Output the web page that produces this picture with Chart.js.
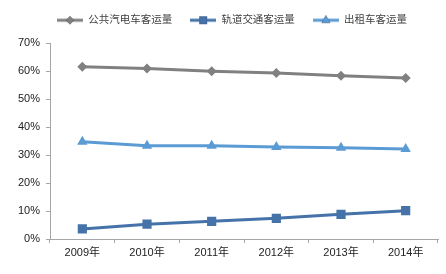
<!DOCTYPE html>
<html>
<head>
<meta charset="utf-8">
<script src="https://cdn.jsdelivr.net/npm/chart.js@4/dist/chart.umd.min.js"></script>
<style>
    html, body { margin: 0; padding: 0; background: #ffffff; }
    #grafico { width: 446px; height: 274px; }
</style>
</head>
<body>
<div id="grafico"><canvas id="lineChartPassageiros"></canvas></div>
<script>
// dados
const anos = ['2009年', '2010年', '2011年', '2012年', '2013年', '2014年'];
const onibus = [61.5, 60.9, 59.9, 59.3, 58.3, 57.5];   // 公共汽电车客运量
const metro = [3.6, 5.3, 6.3, 7.4, 8.8, 10.1];         // 轨道交通客运量
const taxi = [34.7, 33.3, 33.3, 32.9, 32.6, 32.1];     // 出租车客运量
const ticksY = [0, 10, 20, 30, 40, 50, 60, 70];

const fonte = "'Liberation Sans', 'Noto Sans CJK SC', sans-serif";

// desenha o ícone da legenda (linha + marcador)
function iconeLegenda(cor, estilo, raio) {
    const c = document.createElement('canvas');
    c.width = 26;
    c.height = 12;
    const ctx = c.getContext('2d');
    ctx.strokeStyle = cor;
    ctx.lineWidth = 3;
    ctx.beginPath();
    ctx.moveTo(0, 6);
    ctx.lineTo(26, 6);
    ctx.stroke();
    Chart.helpers.drawPoint(ctx, { pointStyle: estilo, radius: raio, borderWidth: 0 }, 13, 6);
    ctx.fillStyle = cor;
    ctx.fill();
    return c;
}

const series = [
    { label: '公共汽电车客运量', data: onibus, cor: '#808080', estilo: 'rectRot', raio: 5 },
    { label: '轨道交通客运量', data: metro, cor: '#4672aa', estilo: 'rect', raio: 6.5 },
    { label: '出租车客运量', data: taxi, cor: '#5b9bd5', estilo: 'triangle', raio: 6 }
];

const dadosGrafico = {
    labels: anos,
    datasets: series.map(s => ({
        label: s.label,
        data: s.data,
        borderColor: s.cor,
        backgroundColor: s.cor,
        borderWidth: 3,
        pointStyle: s.estilo,
        pointRadius: s.raio,
        pointBorderWidth: 0,
        pointBackgroundColor: s.cor,
        tension: 0,
        fill: false,
        icone: iconeLegenda(s.cor, s.estilo, s.raio - 1)
    }))
};

// ajuste da legenda: altura fixa e deslocamento para ficar como no original
const ajusteLegenda = {
    id: 'ajusteLegenda',
    afterInit: function (chart) {
        const fitOriginal = chart.legend.fit;
        chart.legend.fit = function () {
            fitOriginal.call(this);
            this.height = 43;
        };
    },
    afterLayout: function (chart) {
        chart.legend.top -= 3;
        chart.legend.left += 26;
    }
};

const config = {
    type: 'line',
    data: dadosGrafico,
    plugins: [ajusteLegenda],
    options: {
        responsive: true,
        maintainAspectRatio: false,
        animation: false,
        layout: { padding: { left: 0, right: 8, top: 0, bottom: 0 } },
        plugins: {
            tooltip: { enabled: false },
            legend: {
                position: 'top',
                labels: {
                    usePointStyle: true,
                    pointStyleWidth: 26,
                    padding: 18,
                    color: '#404040',
                    font: { family: fonte, size: 10.5 },
                    generateLabels: function (chart) {
                        return chart.data.datasets.map((ds, i) => ({
                            text: ds.label,
                            pointStyle: ds.icone,
                            fillStyle: ds.borderColor,
                            strokeStyle: ds.borderColor,
                            lineWidth: 0,
                            fontColor: '#404040',
                            datasetIndex: i
                        }));
                    }
                }
            }
        },
        scales: {
            x: {
                offset: true,
                grid: { display: true, offset: true, drawOnChartArea: false, tickLength: 4, color: '#a6a6a6' },
                border: { color: '#a6a6a6', width: 1 },
                ticks: { color: '#222222', font: { family: fonte, size: 11 }, padding: 3, maxRotation: 0 },
                afterFit: function (escala) { escala.height = 35; }
            },
            y: {
                min: 0,
                max: 70,
                afterBuildTicks: function (escala) {
                    escala.ticks = ticksY.map(v => ({ value: v }));
                },
                grid: { display: true, drawOnChartArea: false, tickLength: 4, color: '#a6a6a6' },
                border: { color: '#a6a6a6', width: 1 },
                ticks: {
                    color: '#222222',
                    font: { family: fonte, size: 11 },
                    padding: 6,
                    callback: v => v + '%'
                },
                afterFit: function (escala) { escala.width = 50; }
            }
        }
    }
};

let myChartPassageiros = new Chart(
    document.getElementById('lineChartPassageiros'),
    config
);
</script>
</body>
</html>
